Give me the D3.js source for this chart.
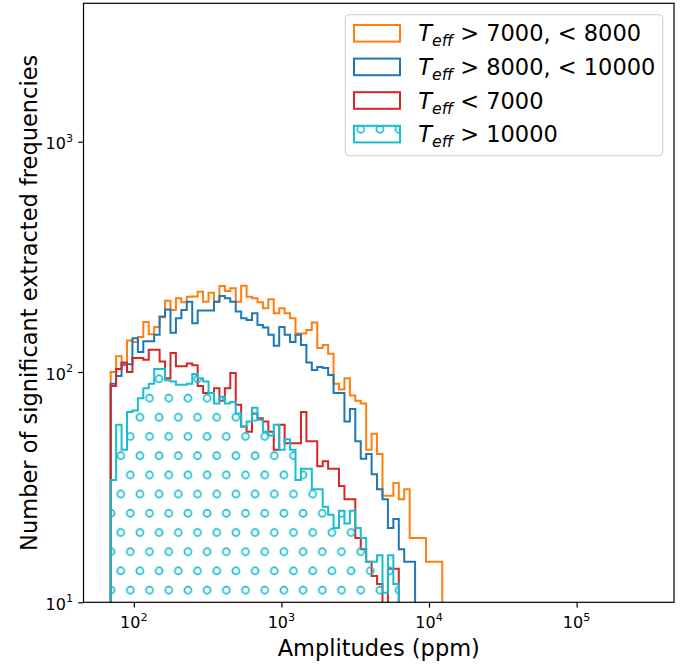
<!DOCTYPE html>
<html>
<head>
<meta charset="utf-8">
<script src="https://cdn.jsdelivr.net/npm/d3@7"></script>
<style>
  body { margin: 0; background: #fff; }
  text { font-family: "DejaVu Sans", sans-serif; fill: #000; }
</style>
</head>
<body>
<div id="chart"></div>
<script>
// log-spaced amplitude bins shared by all four histograms
const binStart = 69.7;       // ppm, left edge of first bin
const binStepDex = 0.03683;  // width of one bin in dex

// counts per bin
const countsMid = [100, 117, 107, 137, 135, 142, 165, 146, 157, 173, 204, 186, 209, 201, 212, 213,
  223, 202, 221, 202, 236, 225, 231, 202, 237, 212, 209, 201, 189, 207, 180, 189, 180, 171, 147,
  147, 152, 164, 127, 131, 120, 89, 84, 94, 79, 75, 73, 46, 54, 44, 29, 29, 33, 28, 31, 19, 19,
  19, 15, 15, 15];
const countsHot = [89, 96, 108, 108, 140, 122, 136, 136, 145, 174, 187, 148, 171, 186, 202, 163,
  185, 185, 185, 202, 214, 209, 202, 183, 171, 168, 180, 160, 156, 145, 130, 157, 145, 135, 145,
  131, 110, 102, 105, 104, 97, 81, 81, 61, 69, 50, 42, 44, 36, 31, 28, 21, 23, 17, 15, 15];
const countsCool = [87, 103, 110, 100, 115, 115, 113, 125, 125, 111, 94, 121, 106, 106, 109, 107,
  87, 81, 81, 85, 75, 85, 99, 72, 58, 55, 66, 63, 61, 55, 46, 59, 49, 49, 49, 67, 50, 50, 39, 41,
  38, 38, 32, 28, 28, 19, 17, 15, 13, 12, 8, 14, 14];
const countsVeryHot = [34, 59, 46, 67, 68, 77, 85, 89, 103, 103, 92, 91, 88, 88, 89, 98, 94, 91,
  81, 73, 78, 73, 74, 66, 58, 61, 70, 62, 55, 53, 59, 46, 51, 46, 34, 38, 38, 31, 31, 26, 24, 21,
  25, 22, 25, 21, 19, 15, 15, 16, 11, 16, 12];

const seriesLabels = ["> 7000, < 8000", "> 8000, < 10000", "< 7000", "> 10000"];
const seriesColors = ["#ff7f0e", "#1f77b4", "#d62728", "#17becf"];
const xTickExps = [2, 3, 4, 5];
const yTickExps = [1, 2, 3];

const W = 697, H = 664;
const plot = {left: 83.5, right: 674, top: 3.3, bottom: 602.3};

const svg = d3.select("#chart").append("svg")
  .attr("width", W).attr("height", H)
  .style("background", "#fff");

const x = d3.scaleLog().domain([45.6, 457000]).range([plot.left, plot.right]);
const y = d3.scaleLog().domain([10, 3990]).range([plot.bottom, plot.top]);

const defs = svg.append("defs");
defs.append("clipPath").attr("id", "clip")
  .append("rect")
  .attr("x", plot.left).attr("y", plot.top)
  .attr("width", plot.right - plot.left).attr("height", plot.bottom - plot.top);

// 'o' hatch, anchored like the figure's
const pat = defs.append("pattern").attr("id", "hatchO")
  .attr("patternUnits", "userSpaceOnUse")
  .attr("x", 111.1).attr("y", 446.1)
  .attr("width", 19.2).attr("height", 38.4);
[[9.6, 9.6], [0, 28.8], [19.2, 28.8]].forEach(p => {
  pat.append("circle").attr("cx", p[0]).attr("cy", p[1]).attr("r", 3.5)
    .attr("fill", "none").attr("stroke", seriesColors[3]).attr("stroke-width", 1.7);
});

const series = [countsMid, countsHot, countsCool, countsVeryHot];

function stepPath(counts) {
  const edges = d3.range(counts.length + 1).map(i => binStart * Math.pow(10, i * binStepDex));
  const low = y(1);  // well below the axis, clipped away
  let pts = [[x(edges[0]), low]];
  counts.forEach((c, i) => {
    const yy = c > 0 ? y(c) : low;
    pts.push([x(edges[i]), yy]);
    pts.push([x(edges[i + 1]), yy]);
  });
  pts.push([x(edges[counts.length]), low]);
  return d3.line()(pts);
}

const g = svg.append("g").attr("clip-path", "url(#clip)");
series.forEach((counts, i) => {
  if (i == 3) {
    g.append("path").attr("d", stepPath(counts) + "Z")
      .attr("fill", "url(#hatchO)").attr("stroke", "none");
  }
  g.append("path").attr("d", stepPath(counts))
    .attr("fill", "none")
    .attr("stroke", seriesColors[i])
    .attr("stroke-width", 2)
    .attr("stroke-linejoin", "miter");
});

// ticks
function minorVals(lo, hi) {
  let out = [];
  for (let e = 0; e <= 6; e++)
    for (let k = 2; k <= 9; k++) {
      const v = k * Math.pow(10, e);
      if (v > lo && v < hi) out.push(v);
    }
  return out;
}

const xAx = svg.append("g").attr("transform", "translate(0," + plot.bottom + ")");
xAx.call(d3.axisBottom(x).tickValues(minorVals(45.6, 457000)).tickSize(3).tickFormat(""))
  .call(a => a.selectAll("line").attr("stroke-width", 0.9));
xAx.call(d3.axisBottom(x).tickValues(xTickExps.map(e => Math.pow(10, e))).tickSize(5.3).tickFormat(""))
  .call(a => a.selectAll("line").attr("stroke-width", 1.2));
xAx.selectAll(".domain").remove();

const yAx = svg.append("g").attr("transform", "translate(" + plot.left + ",0)");
yAx.call(d3.axisLeft(y).tickValues(minorVals(10, 3990)).tickSize(3).tickFormat(""))
  .call(a => a.selectAll("line").attr("stroke-width", 0.9));
yAx.call(d3.axisLeft(y).tickValues(yTickExps.map(e => Math.pow(10, e))).tickSize(5.3).tickFormat(""))
  .call(a => a.selectAll("line").attr("stroke-width", 1.2));
yAx.selectAll(".domain").remove();

// tick labels as 10^n
xTickExps.forEach(e => {
  const t = svg.append("text")
    .attr("x", x(Math.pow(10, e))).attr("y", 628)
    .attr("text-anchor", "middle").style("font-size", "16px");
  t.append("tspan").text("10");
  t.append("tspan").attr("dy", -7.5).style("font-size", "11.2px").text(e);
});
yTickExps.forEach(e => {
  const t = svg.append("text")
    .attr("x", 73).attr("y", y(Math.pow(10, e)) + 7.5)
    .attr("text-anchor", "end").style("font-size", "16px");
  t.append("tspan").text("10");
  t.append("tspan").attr("dy", -7.5).style("font-size", "11.2px").text(e);
});

// frame
svg.append("rect")
  .attr("x", plot.left).attr("y", plot.top)
  .attr("width", plot.right - plot.left).attr("height", plot.bottom - plot.top)
  .attr("fill", "none").attr("stroke", "#000").attr("stroke-width", 1.2);

// axis labels
svg.append("text")
  .attr("x", (plot.left + plot.right) / 2).attr("y", 656)
  .attr("text-anchor", "middle").style("font-size", "22.5px")
  .text("Amplitudes (ppm)");
svg.append("text")
  .attr("transform", "translate(37," + (plot.top + plot.bottom) / 2 + ") rotate(-90)")
  .attr("text-anchor", "middle").style("font-size", "22.5px")
  .text("Number of significant extracted frequencies");

// legend
const leg = svg.append("g");
leg.append("rect")
  .attr("x", 345.3).attr("y", 14.7).attr("width", 317.4).attr("height", 141)
  .attr("rx", 4).attr("fill", "#fff").attr("fill-opacity", 0.8)
  .attr("stroke", "#cccccc").attr("stroke-width", 1.1);

seriesLabels.forEach((lab, i) => {
  const cy = 33.3 + i * 33.6;
  if (i == 3) {
    leg.append("rect").attr("x", 354).attr("y", cy - 8.3).attr("width", 46).attr("height", 16.6)
      .attr("fill", "url(#hatchO)");
  }
  leg.append("rect").attr("x", 354).attr("y", cy - 8.3).attr("width", 46).attr("height", 16.6)
    .attr("fill", "none").attr("stroke", seriesColors[i]).attr("stroke-width", 2);
  const t = leg.append("text").attr("x", 418.3).attr("y", cy + 8).style("font-size", "22.5px");
  t.append("tspan").style("font-style", "italic").text("T");
  t.append("tspan").attr("dy", 5).style("font-style", "italic").style("font-size", "15.7px").text("eff");
  t.append("tspan").attr("dy", -5).text("\u00a0" + lab);
});
</script>
</body>
</html>
